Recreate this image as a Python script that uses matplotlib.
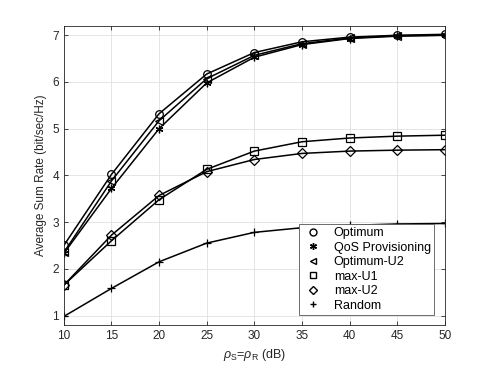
import matplotlib
matplotlib.use("Agg")
import matplotlib.pyplot as plt

plt.rcParams['font.family'] = ['Liberation Sans', 'DejaVu Sans']
plt.rcParams['mathtext.fontset'] = 'custom'
plt.rcParams['mathtext.rm'] = 'Liberation Sans'
plt.rcParams['mathtext.it'] = 'Liberation Sans:italic'

snr = [10, 15, 20, 25, 30, 35, 40, 45, 50]
optimum = [2.50, 4.02, 5.32, 6.17, 6.63, 6.86, 6.96, 7.00, 7.02]
qos = [2.33, 3.72, 5.00, 5.98, 6.53, 6.80, 6.93, 6.98, 7.00]
optimum_u2 = [2.35, 3.88, 5.17, 6.07, 6.57, 6.82, 6.94, 6.99, 7.00]
max_u1 = [1.65, 2.60, 3.48, 4.13, 4.52, 4.72, 4.80, 4.84, 4.86]
max_u2 = [1.65, 2.72, 3.57, 4.08, 4.34, 4.47, 4.52, 4.54, 4.55]
random_sel = [0.98, 1.58, 2.15, 2.55, 2.78, 2.88, 2.93, 2.96, 2.97]

series = [
    ("Optimum", optimum, "o", 'none'),
    ("QoS Provisioning", qos, (6, 2, 0), 'k'),
    ("Optimum-U2", optimum_u2, "<", 'none'),
    ("max-U1", max_u1, "s", 'none'),
    ("max-U2", max_u2, "D", 'none'),
    ("Random", random_sel, "+", 'none'),
]

fig = plt.figure(figsize=(4.91, 3.65), dpi=100)
ax = fig.add_axes([0.130, 0.110, 0.776, 0.819])

for name, vals, mk, fc in series:
    ms = 5.5 if mk != "D" else 5
    ax.plot(snr, vals, color='k', lw=1.1, marker=mk, ms=ms, mfc=fc, mec='k', mew=0.9)

# legend with markers only
handles = []
for name, vals, mk, fc in series:
    h, = ax.plot([], [], ls='none', marker=mk, ms=5 if mk != "D" else 4.5, mfc=fc, mec='k', mew=1.0, color='k', label=name)
    handles.append(h)
leg = ax.legend(handles=handles, loc='lower right', fontsize=9, frameon=True, fancybox=False,
                edgecolor='#555555', framealpha=1, borderpad=0.25, handletextpad=0.9,
                labelspacing=0.2, handlelength=1.6, bbox_to_anchor=(0.988, 0.013))
leg.get_frame().set_linewidth(0.6)

ax.set_xlim(10, 50)
ax.set_ylim(0.8, 7.2)
ax.set_xticks(range(10, 51, 5))
ax.set_yticks(range(1, 8))
ax.grid(True, color='#e0e0e0', lw=0.6)
ax.set_axisbelow(True)
ax.tick_params(direction='in', top=True, right=True, labelsize=8.5, length=3, width=0.6, colors='#262626')
for s in ax.spines.values():
    s.set_color('#262626')
    s.set_linewidth(0.6)
ax.set_xlabel(r'$\rho_{\rm S}$=$\rho_{\rm R}$ (dB)', fontsize=9, color='#262626')
ax.set_ylabel('Average Sum Rate (bit/sec/Hz)', fontsize=8.5, color='#262626')

fig.savefig("out.png", dpi=100)
